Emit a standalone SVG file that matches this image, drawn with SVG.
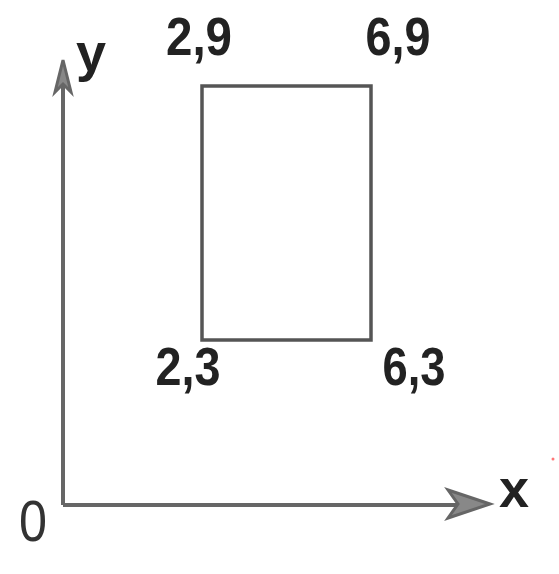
<svg xmlns="http://www.w3.org/2000/svg" width="559" height="574" viewBox="0 0 559 574">
<style>
.lbl{font-family:"Liberation Sans",Arial,sans-serif;font-weight:bold;font-size:53px;fill:#222}
.ax{font-family:"Liberation Sans",Arial,sans-serif;font-weight:bold;font-size:54px;fill:#222}
.zero{font-family:"Liberation Sans",Arial,sans-serif;font-size:58px;fill:#333}
.axis{stroke:#666;stroke-width:4;fill:none}
.head{stroke:#666;stroke-width:3;fill:#888;stroke-linejoin:miter}
</style>
<rect width="559" height="574" fill="#fff"/>
<g id="connectors">
<path class="axis" d="M63,505 V66 M63,505 H484"/>
<path class="head" d="M63,60 L55,92 L63,84 L71,92 Z"/>
<path class="head" d="M490,504 L448,490 L458,504 L448,518 Z"/>
</g>
<g id="rect">
<rect x="202" y="86" width="169" height="254" fill="#fff" stroke="#555" stroke-width="3.5"/>
</g>
<g id="labels">
<text class="lbl" x="199" y="55" text-anchor="middle" textLength="66" lengthAdjust="spacingAndGlyphs">2,9</text>
<text class="lbl" x="398" y="55" text-anchor="middle" textLength="65" lengthAdjust="spacingAndGlyphs">6,9</text>
<text class="lbl" x="188" y="385" text-anchor="middle" textLength="65" lengthAdjust="spacingAndGlyphs">2,3</text>
<text class="lbl" x="414" y="385" text-anchor="middle" textLength="63" lengthAdjust="spacingAndGlyphs">6,3</text>
<text class="ax" x="91" y="71" text-anchor="middle">y</text>
<text class="ax" x="514" y="507" text-anchor="middle">x</text>
<text class="zero" x="33" y="541" text-anchor="middle" textLength="28" lengthAdjust="spacingAndGlyphs">0</text>
</g>
<circle cx="553" cy="459" r="1.5" fill="#f77"/>
</svg>
